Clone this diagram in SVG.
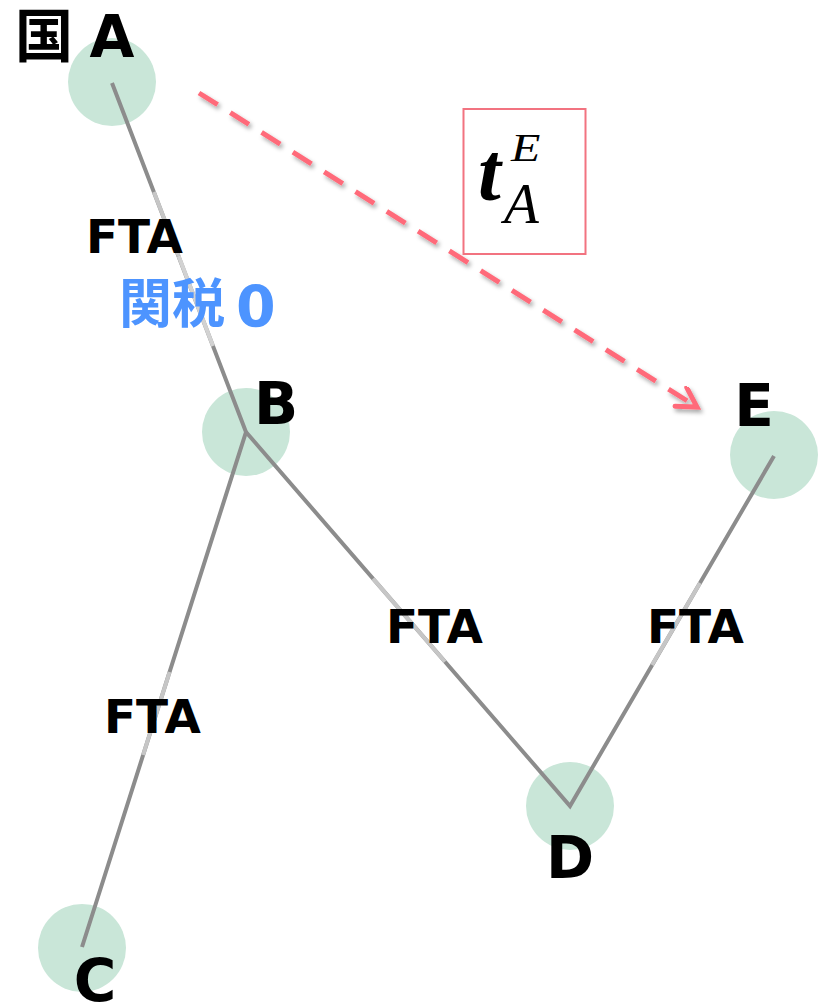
<svg xmlns="http://www.w3.org/2000/svg" width="820" height="1005" viewBox="0 0 820 1005">
  <style>
    .node { fill: #c9e6d8; }
    .link { stroke: #8c8c8c; stroke-width: 4; fill: none; }
    .link-faded { stroke: #c6c6c6; stroke-width: 4; fill: none; }
    .name { font-family: "DejaVu Sans", Verdana, sans-serif; font-weight: bold; font-size: 58px; fill: #000; text-anchor: middle; }
    .fta { font-family: "DejaVu Sans", Verdana, sans-serif; font-weight: bold; font-size: 47px; fill: #000; }
    .tariff { font-family: "DejaVu Sans", "Noto Sans CJK JP", sans-serif; font-weight: bold; fill: #4d94ff; }
    .math { font-family: "Liberation Serif", "Times New Roman", serif; font-style: italic; fill: #000; }
  </style>
  <defs>
    <filter id="shadow" x="-10%" y="-10%" width="120%" height="130%">
      <feDropShadow dx="2" dy="3" stdDeviation="2" flood-color="#000" flood-opacity="0.35"/>
    </filter>
    <marker id="chevron" markerUnits="userSpaceOnUse" markerWidth="30" markerHeight="30" refX="22" refY="12" orient="auto">
      <polyline points="3,1 22,12 3,23" fill="none" stroke="#ff6b7a" stroke-width="5" stroke-linecap="round" stroke-linejoin="miter"/>
    </marker>
  </defs>

  <!-- country nodes -->
  <g id="node-A"><circle class="node" cx="112" cy="82" r="44"/></g>
  <g id="node-B"><circle class="node" cx="246" cy="432" r="44"/></g>
  <g id="node-C"><circle class="node" cx="82" cy="948" r="44"/></g>
  <g id="node-D"><circle class="node" cx="570" cy="806" r="44"/></g>
  <g id="node-E"><circle class="node" cx="774" cy="455" r="44"/></g>

  <!-- FTA links -->
  <g id="connectors">
    <polyline class="link" points="112,83 246,432 82,947"/>
    <polyline class="link" points="246,432 570,806 774,456"/>
    <line class="link-faded" x1="153.9" y1="192" x2="178.6" y2="256"/>
    <line class="link-faded" x1="178.6" y1="256" x2="213" y2="346" style="stroke:#d2d2d2"/>
    <line class="link-faded" x1="373" y1="578.6" x2="445" y2="661.7"/>
    <line class="link-faded" x1="700" y1="583" x2="652" y2="665"/>
    <line class="link-faded" x1="169.6" y1="672" x2="143.1" y2="755"/>
    <g id="tariff-arrow" filter="url(#shadow)">
      <line x1="199" y1="93" x2="697" y2="407" stroke="#ff6b7a" stroke-width="5" stroke-dasharray="22 15" marker-end="url(#chevron)"/>
    </g>
  </g>

  <!-- node names -->
  <g id="labels">
    <text x="15" y="57" style="font-family:'Noto Sans CJK JP',sans-serif;font-weight:bold;font-size:58px;fill:#000">国</text>
    <text class="name" x="112" y="57">A</text>
    <text class="name" x="276" y="424">B</text>
    <text class="name" x="95" y="1001">C</text>
    <text class="name" x="570" y="878">D</text>
    <text class="name" x="754" y="426">E</text>
  </g>

  <!-- link labels -->
  <g id="link-labels">
    <text class="fta" x="86" y="253">FTA</text>
    <text class="tariff" x="119" y="323" style="font-size:53px">関税</text>
    <text class="tariff" x="236" y="327" style="font-size:57px">0</text>
    <text class="fta" x="386" y="643">FTA</text>
    <text class="fta" x="647" y="643">FTA</text>
    <text class="fta" x="104" y="733">FTA</text>
  </g>

  <!-- tariff box -->
  <g id="tariff-box">
    <rect x="463.5" y="109" width="122" height="145" fill="#fff" stroke="#f27380" stroke-width="2"/>
    <text class="math" x="478" y="200" style="font-size:82px;font-weight:bold">t</text>
    <text class="math" transform="translate(511,161) scale(1.2,1)" style="font-size:40px">E</text>
    <text class="math" x="504" y="223" style="font-size:57px">A</text>
  </g>
</svg>
